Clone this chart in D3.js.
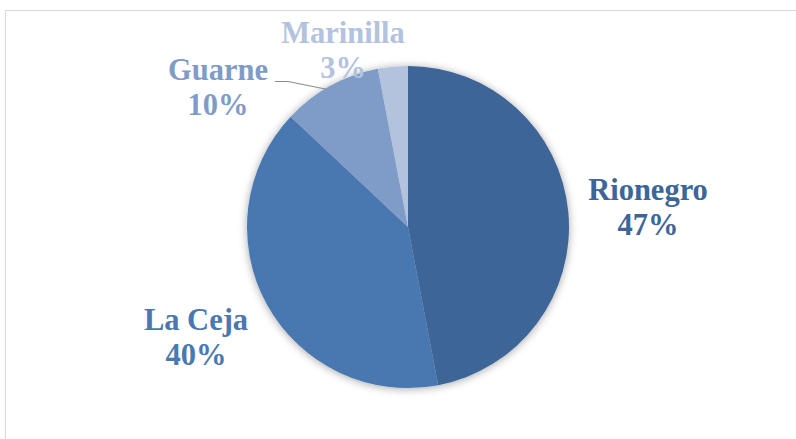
<!DOCTYPE html>
<html>
<head>
<meta charset="utf-8">
<script src="https://cdn.jsdelivr.net/npm/d3@7"></script>
<style>
  html, body { margin: 0; padding: 0; background: #fff; }
  svg { display: block; }
</style>
</head>
<body>
<svg id="chart" width="796" height="439"></svg>
<script>
// Share of records by municipality
const municipios = ["Rionegro", "La Ceja", "Guarne", "Marinilla"];
const porcentajes = [47, 40, 10, 3];
const colores = ["#3d6597", "#4a78b0", "#7f9cc9", "#b3c3de"];

const width = 796, height = 439;
const cx = 408, cy = 227, radius = 161;

const svg = d3.select("#chart");

// chart frame
svg.append("rect")
  .attr("x", 5.5).attr("y", 10.5)
  .attr("width", 820).attr("height", 460)
  .attr("fill", "#fff")
  .attr("stroke", "#d9d9d9")
  .attr("stroke-width", 1);

// soft shadow under the pie
const defs = svg.append("defs");
const f = defs.append("filter").attr("id", "sombra")
  .attr("x", "-20%").attr("y", "-20%").attr("width", "140%").attr("height", "140%");
f.append("feDropShadow")
  .attr("dx", 0).attr("dy", 1)
  .attr("stdDeviation", 4)
  .attr("flood-color", "#000")
  .attr("flood-opacity", 0.35);

const datos = municipios.map((m, i) => ({ nombre: m, valor: porcentajes[i], color: colores[i] }));

const pie = d3.pie().sort(null).value(d => d.valor);
const arc = d3.arc().innerRadius(0).outerRadius(radius);
const arcos = pie(datos);

const g = svg.append("g").attr("transform", `translate(${cx},${cy})`);

g.append("g").attr("filter", "url(#sombra)")
  .selectAll("path")
  .data(arcos)
  .join("path")
  .attr("d", arc)
  .attr("fill", d => d.data.color);

// label placement around the pie (center of the text block)
const etiquetas = {
  "Rionegro":  { x: 648, y: 190 },
  "La Ceja":   { x: 196, y: 320 },
  "Guarne":    { x: 218, y: 70 },
  "Marinilla": { x: 343, y: 33 }
};

// leader line for Guarne
const guarne = arcos.find(a => a.data.nombre === "Guarne");
const angG = guarne.startAngle + (guarne.endAngle - guarne.startAngle) * 0.45;
const bordeX = cx + Math.sin(angG) * (radius - 1);
const bordeY = cy - Math.cos(angG) * (radius - 1);
svg.append("path")
  .attr("d", `M275,81.5 L288,81.5 L${bordeX},${bordeY}`)
  .attr("fill", "none")
  .attr("stroke", "#8c8c8c")
  .attr("stroke-width", 1.2);

const lbl = svg.append("g")
  .attr("font-family", "'Liberation Serif', 'Times New Roman', serif")
  .attr("font-weight", "bold")
  .attr("font-size", 30.5)
  .attr("text-anchor", "middle");

arcos.forEach(a => {
  const p = etiquetas[a.data.nombre];
  const t = lbl.append("text").attr("fill", a.data.color);
  t.append("tspan").attr("x", p.x).attr("y", p.y + 10).text(a.data.nombre);
  t.append("tspan").attr("x", p.x).attr("y", p.y + 45).text(a.data.valor + "%");
});
</script>
</body>
</html>
